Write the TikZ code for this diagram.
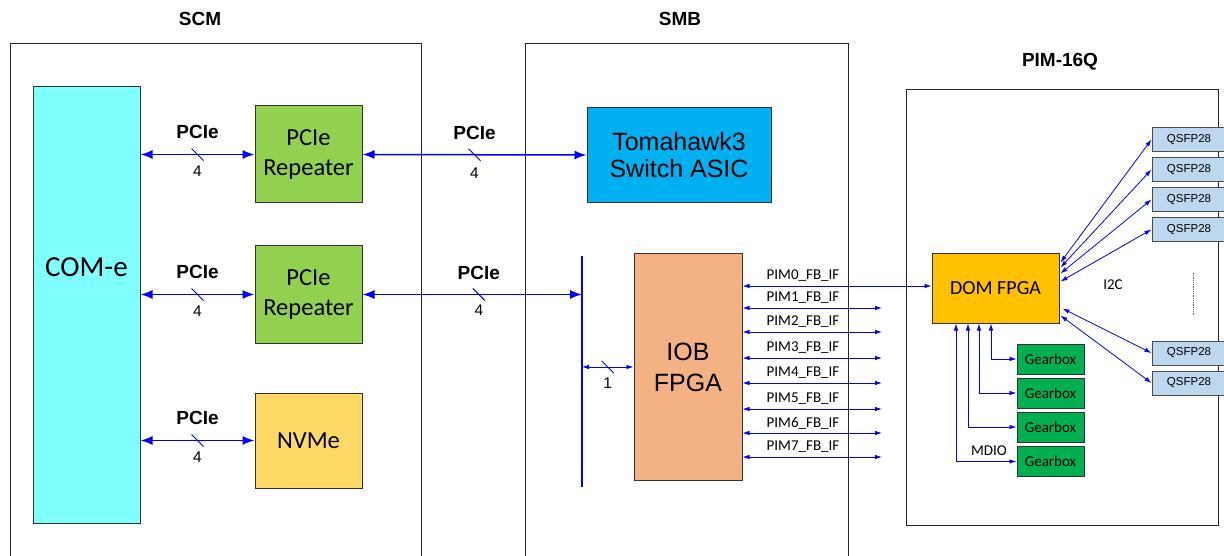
\documentclass[tikz,border=0pt]{standalone}
\usepackage{fontspec}
\setmainfont{Liberation Sans}
\newfontfamily\calibri{Carlito}
\usetikzlibrary{arrows.meta, positioning, calc}
\definecolor{linkblue}{HTML}{0000FF}
\definecolor{comcyan}{HTML}{80FFFF}
\definecolor{repgreen}{HTML}{92D050}
\definecolor{nvmeyel}{HTML}{FFD966}
\definecolor{asicblue}{HTML}{00B0F0}
\definecolor{iobsalmon}{HTML}{F4B183}
\definecolor{domorange}{HTML}{FFC000}
\definecolor{gbgreen}{HTML}{00B050}
\definecolor{qsfpblue}{HTML}{BDD7EE}

\begin{document}
\begin{tikzpicture}[x=1pt, y=-1pt,
    every node/.style={inner sep=0pt},
    title/.style={font=\fontsize{19}{22}\selectfont\bfseries},
    frame/.style={draw=black!85, line width=0.8pt},
    blk/.style={rectangle, draw=black!80, line width=1pt, align=center},
    pcie/.style={{Latex[length=12pt,width=9pt]}-{Latex[length=12pt,width=9pt]},
                 linkblue, line width=1.5pt},
    sig/.style={{Latex[length=7pt,width=4.5pt]}-{Latex[length=7pt,width=4.5pt]},
                linkblue, line width=0.8pt},
    tickmark/.style={linkblue, line width=1pt},
    buslbl/.style={font=\fontsize{19}{22}\selectfont\bfseries},
    lanelbl/.style={font=\fontsize{15.5}{17}\selectfont},
    pimlbl/.style={font=\calibri\fontsize{15}{17}\selectfont},
    qsfp/.style={blk, fill=qsfpblue, draw=black!70, minimum width=74, minimum height=24,
                 font=\fontsize{11.5}{13}\selectfont},
    gear/.style={blk, fill=gbgreen, minimum width=67, minimum height=30,
                 font=\calibri\fontsize{15}{17}\selectfont}
]
    \clip (0,0) rectangle (1224,556);

    % boards
    \draw[frame] (10,43) rectangle (421,580);
    \draw[frame] (525,43) rectangle (848,580);
    \draw[frame] (906,89) rectangle (1218,525);
    \node[title] (scmt) at (200,19) {SCM};
    \node[title] (smbt) at (680,19) {SMB};
    \node[title] (pimt) at (1060,62) {PIM-16Q};

    % SCM
    \node[blk, fill=comcyan, minimum width=107, minimum height=436] (come) at (86.5,305) {};
    \node[font=\calibri\fontsize{29}{33}\selectfont] (comel) at (86.5,267) {COM-e};
    \node[blk, fill=repgreen, minimum width=107, minimum height=97,
          font=\calibri\fontsize{24.5}{30}\selectfont] (rep1) at (308.5,154.5) {PCIe\\Repeater};
    \node[blk, fill=repgreen, minimum width=107, minimum height=97,
          font=\calibri\fontsize{24.5}{30}\selectfont] (rep2) at (308.5,294.5) {PCIe\\Repeater};
    \node[blk, fill=nvmeyel, minimum width=107, minimum height=95,
          font=\calibri\fontsize{24.5}{30}\selectfont] (nvme) at (308.5,440.5) {NVMe};

    \foreach \b/\n in {rep1/a, rep2/b, nvme/c} {
        \draw[pcie] (come.east |- \b.west) -- coordinate (t\n) (\b.west);
        \draw[tickmark] ($(t\n)+(-6,-6)$) -- ($(t\n)+(6,6)$);
        \node[buslbl] (pl\n) at ($(t\n)+(0,-23)$) {PCIe};
        \node[lanelbl] (ln\n) at ($(t\n)+(0,17)$) {4};
    }

    % SMB
    \node[blk, fill=asicblue, minimum width=184, minimum height=95,
          font=\fontsize{25}{27}\selectfont] (asic) at (679,155) {Tomahawk3\\Switch ASIC};
    \node[blk, fill=iobsalmon, minimum width=108, minimum height=226,
          font=\fontsize{25}{31}\selectfont] (iob) at (688,367) {IOB\\FPGA};
    \coordinate (bustop) at (582,256);
    \coordinate (busbot) at (582,487);
    \draw[linkblue, line width=1.5pt] (bustop) -- (busbot);

    \draw[pcie] (rep1.east) -- coordinate (td) (asic.west);
    \draw[tickmark] ($(td)+(-6,-6)$) -- ($(td)+(6,6)$);
    \node[buslbl] (pld) at ($(td)+(0,-22)$) {PCIe};
    \node[lanelbl] (lnd) at ($(td)+(0,18)$) {4};

    \draw[pcie] (rep2.east) -- coordinate[pos=0.53] (te) (rep2.east -| bustop);
    \draw[tickmark] ($(te)+(-6,-6)$) -- ($(te)+(6,6)$);
    \node[buslbl] (ple) at ($(te)+(0,-22)$) {PCIe};
    \node[lanelbl] (lne) at ($(te)+(0,16)$) {4};

    \draw[sig] (iob.west -| bustop) -- coordinate (tf) (iob.west);
    \draw[tickmark] ($(tf)+(-6,-6)$) -- ($(tf)+(6,6)$);
    \node[lanelbl] (lnf) at ($(tf)+(0,16)$) {1};

    % PIM-16Q
    \node[blk, fill=domorange, minimum width=127, minimum height=69,
          font=\calibri\fontsize{20}{22}\selectfont] (dom) at (995.5,288.5) {DOM FPGA};

    \draw[sig] (iob.east |- 0,286) -- (dom.west |- 0,286);
    \node[pimlbl] (pim0) at (803,276) {PIM0\_FB\_IF};
    \foreach \i/\y in {1/308, 2/332, 3/358, 4/383, 5/409, 6/433, 7/457} {
        \coordinate (pe\i) at (882,\y);
        \draw[sig] (iob.east |- pe\i) -- (pe\i);
        \node[pimlbl] (pim\i) at (803,\y-10) {PIM\i\_FB\_IF};
    }

    \foreach \q/\y in {1/139.5, 2/169.5, 3/199.5, 4/229.5, 5/353, 6/383}
        \node[qsfp] (q\q) at (1189,\y) {QSFP28};
    \foreach \q/\dy in {1/9, 2/14, 3/20, 4/28}
        \draw[sig] ($(dom.north east)+(1,\dy)$) -- (q\q.west);
    \draw[sig] ($(dom.south east)+(3,-15)$) -- (q5.west);
    \draw[sig] ($(dom.south east)+(1,-8)$) -- (q6.west);
    \node[pimlbl] (i2c) at (1113,285) {I2C};
    \draw[black!60, densely dotted, line width=0.8pt] (1193,273) -- (1193,315);

    \foreach \g/\y/\dx in {1/359/-4.5, 2/393/-16.5, 3/427/-27.5, 4/461.5/-39.5} {
        \node[gear] (gb\g) at (1050.5,\y) {Gearbox};
        \draw[sig] ($(dom.south)+(\dx,0)$) |- (gb\g.west);
    }
    \node[pimlbl] (mdio) at (989,451) {MDIO};
\end{tikzpicture}
\end{document}
